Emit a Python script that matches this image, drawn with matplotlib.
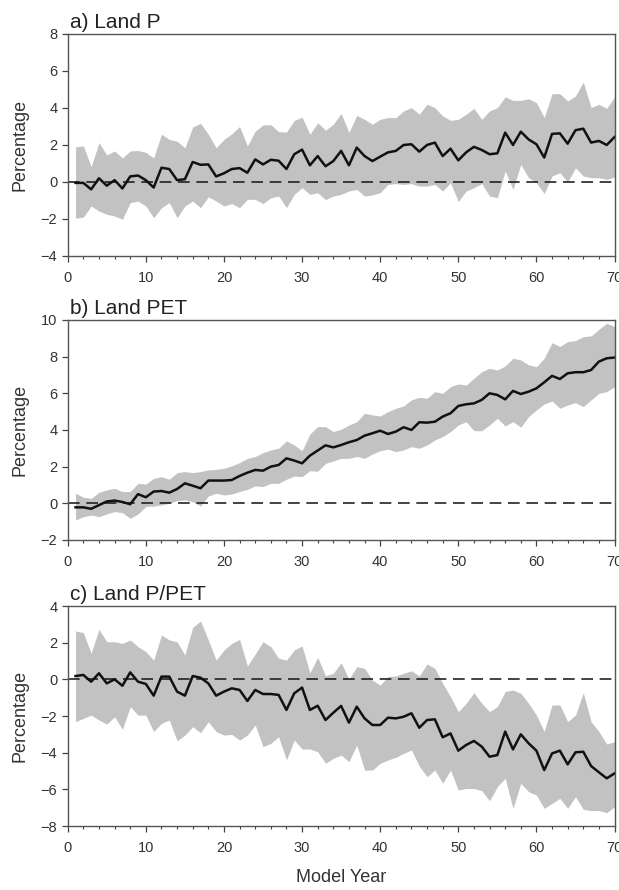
import numpy as np
from matplotlib import pyplot

years = list(range(1, 71))

land_p_mean = [-0.05, -0.05, -0.4, 0.2, -0.2, 0.1, -0.35, 0.3, 0.35, 0.1,
               -0.3, 0.77, 0.7, 0.1, 0.15, 1.08, 0.93, 0.95, 0.3, 0.47,
               0.7, 0.75, 0.5, 1.22, 0.95, 1.2, 1.15, 0.7, 1.5, 1.75,
               0.9, 1.4, 0.85, 1.13, 1.68, 0.9, 1.86, 1.4, 1.13, 1.37,
               1.6, 1.68, 2.0, 2.04, 1.64, 2.0, 2.13, 1.4, 1.8, 1.17,
               1.6, 1.9, 1.73, 1.5, 1.55, 2.67, 2.0, 2.72, 2.3, 2.04,
               1.32, 2.6, 2.63, 2.07, 2.8, 2.88, 2.13, 2.22, 2.0, 2.43]
land_p_upper = [1.9, 1.95, 0.83, 2.13, 1.46, 1.68, 1.3, 1.68, 1.7, 1.6,
                1.3, 2.58, 2.3, 2.2, 1.85, 2.97, 3.17, 2.58, 1.85, 2.3,
                2.6, 3.0, 1.95, 2.75, 3.08, 3.1, 2.72, 2.7, 3.33, 3.5,
                2.58, 3.2, 2.8, 3.12, 3.71, 2.67, 3.6, 3.39, 3.12, 3.39,
                3.48, 3.48, 3.84, 4.02, 3.66, 4.2, 4.02, 3.57, 3.33, 3.39,
                3.66, 3.98, 3.39, 3.84, 4.02, 4.6, 4.41, 4.41, 4.5, 4.29,
                3.48, 4.77, 4.77, 4.38, 4.65, 5.4, 4.02, 4.2, 3.98, 4.6]
land_p_lower = [-1.96, -1.9, -1.3, -1.57, -1.75, -1.84, -2.02, -1.12, -1.03, -1.3,
                -1.93, -1.39, -1.12, -1.93, -1.3, -1.03, -1.39, -0.8, -1.03, -1.3,
                -1.17, -1.39, -0.94, -0.94, -1.17, -0.85, -0.76, -1.39, -0.67, -0.31,
                -0.67, -0.58, -0.95, -0.76, -0.67, -0.49, -0.4, -0.76, -0.7, -0.58,
                -0.13, -0.09, -0.13, -0.09, -0.22, -0.22, -0.13, -0.49, -0.04, -1.06,
                -0.49, -0.31, -0.09, -0.76, -0.85, 0.6, -0.4, 0.95, 0.23, -0.04,
                -0.63, 0.32, 0.5, 0.0, 0.77, 0.32, 0.23, 0.23, 0.14, 0.27]

land_pet_mean = [-0.22, -0.22, -0.3, -0.1, 0.1, 0.15, 0.07, -0.05, 0.5, 0.33,
                 0.64, 0.67, 0.58, 0.78, 1.09, 0.96, 0.82, 1.24, 1.24, 1.24,
                 1.27, 1.49, 1.67, 1.82, 1.78, 2.0, 2.09, 2.45, 2.33, 2.18,
                 2.6, 2.88, 3.16, 3.05, 3.18, 3.33, 3.45, 3.69, 3.82, 3.96,
                 3.78, 3.91, 4.15, 4.0, 4.42, 4.4, 4.45, 4.73, 4.91, 5.31,
                 5.4, 5.45, 5.64, 6.0, 5.91, 5.67, 6.13, 5.96, 6.09, 6.27,
                 6.6, 6.95, 6.78, 7.09, 7.15, 7.15, 7.27, 7.73, 7.91, 7.95]
land_pet_upper = [0.55, 0.33, 0.27, 0.6, 0.73, 0.82, 0.64, 0.64, 1.09, 1.05,
                  1.36, 1.45, 1.31, 1.67, 1.73, 1.67, 1.73, 1.82, 1.85, 1.91,
                  2.04, 2.22, 2.45, 2.55, 2.76, 2.91, 3.0, 3.4, 3.18, 2.87,
                  3.78, 4.18, 4.18, 3.91, 4.04, 4.27, 4.45, 4.91, 4.82, 4.76,
                  5.0, 5.18, 5.31, 5.64, 5.78, 5.73, 6.09, 6.0, 6.36, 6.51,
                  6.45, 6.82, 7.18, 7.36, 7.27, 7.49, 7.91, 7.82, 7.55, 7.45,
                  7.91, 8.76, 8.55, 8.82, 8.87, 9.09, 9.13, 9.49, 9.82, 9.64]
land_pet_lower = [-0.91, -0.73, -0.64, -0.73, -0.58, -0.45, -0.51, -0.82, -0.58, -0.18,
                  -0.15, -0.09, 0.0, 0.15, 0.18, 0.09, -0.15, 0.4, 0.55, 0.45,
                  0.51, 0.64, 0.76, 0.95, 0.91, 1.09, 1.09, 1.31, 1.49, 1.45,
                  1.78, 1.75, 2.18, 2.31, 2.45, 2.45, 2.55, 2.45, 2.69, 2.87,
                  2.95, 2.82, 2.91, 3.09, 3.0, 3.18, 3.45, 3.64, 3.91, 4.27,
                  4.45, 3.96, 3.96, 4.27, 4.64, 4.22, 4.45, 4.15, 4.73, 5.09,
                  5.42, 5.58, 5.18, 5.36, 5.49, 5.27, 5.64, 6.0, 6.09, 6.36]

land_ratio_mean = [0.18, 0.24, -0.13, 0.33, -0.22, 0.0, -0.35, 0.38, -0.13, -0.25,
                   -0.89, 0.15, 0.15, -0.67, -0.89, 0.18, 0.09, -0.22, -0.89, -0.67,
                   -0.49, -0.58, -1.18, -0.58, -0.8, -0.8, -0.85, -1.67, -0.76, -0.45,
                   -1.67, -1.44, -2.22, -1.82, -1.45, -2.36, -1.49, -2.13, -2.49, -2.49,
                   -2.09, -2.13, -2.04, -1.85, -2.64, -2.22, -2.18, -3.16, -2.95, -3.89,
                   -3.58, -3.36, -3.67, -4.22, -4.13, -2.85, -3.82, -3.0, -3.49, -3.89,
                   -4.95, -4.04, -3.89, -4.64, -3.98, -3.95, -4.73, -5.07, -5.4, -5.13]
land_ratio_upper = [2.64, 2.55, 1.42, 2.73, 2.05, 2.05, 1.96, 2.15, 1.78, 1.51,
                    1.05, 2.42, 2.15, 2.05, 1.33, 2.84, 3.18, 2.15, 1.05, 1.6,
                    1.96, 2.18, 0.73, 1.38, 2.05, 1.78, 1.15, 1.05, 1.6, 1.82,
                    0.35, 1.2, 0.2, 0.33, 0.91, 0.0, 0.69, 0.6, -0.04, -0.31,
                    0.15, 0.18, 0.33, 0.47, 0.18, 0.84, 0.6, -0.22, -0.95, -1.76,
                    -1.31, -0.73, -1.31, -1.76, -1.49, -0.67, -0.58, -0.76, -1.31, -1.95,
                    -2.85, -1.4, -1.4, -2.31, -1.95, -0.73, -2.31, -2.85, -3.53, -3.4]
land_ratio_lower = [-2.31, -2.13, -1.95, -2.22, -2.44, -2.04, -2.73, -1.49, -1.95, -1.95,
                    -2.85, -2.4, -2.22, -3.35, -3.04, -2.58, -2.91, -2.31, -2.85, -3.04,
                    -3.0, -3.31, -3.04, -2.49, -3.67, -3.49, -3.13, -4.4, -3.31, -3.8,
                    -3.8, -3.95, -4.58, -4.31, -4.13, -4.49, -3.58, -4.95, -4.95, -4.58,
                    -4.4, -4.25, -4.04, -3.85, -4.73, -5.31, -4.95, -5.67, -4.95, -6.04,
                    -5.95, -5.95, -6.07, -6.62, -5.85, -5.4, -7.04, -5.67, -6.13, -6.31,
                    -7.04, -6.76, -6.49, -7.04, -6.4, -7.09, -7.16, -7.16, -7.27, -6.95]

titles = ["a) Land P", "b) Land PET", "c) Land P/PET"]
y_ranges = [(-4, 8), (-2, 10), (-8, 4)]


def draw_panel(ax, title, mean, lower, upper, ylim):
    ax.fill_between(years, lower, upper, color="#c2c2c2", linewidth=0)
    ax.axhline(0, color="#222222", linewidth=1.2, dashes=(7, 4))
    ax.plot(years, mean, color="#111111", linewidth=1.8)

    ax.set_xlim(0, 70)
    ax.set_ylim(*ylim)
    ax.set_xticks(np.arange(0, 71, 10))
    ax.set_xticks(np.arange(0, 71, 2), minor=True)
    ax.set_yticks(np.arange(ylim[0], ylim[1] + 1, 2))
    ax.tick_params(axis="both", which="major", direction="out", length=4,
                   width=0.9, color="#444444", labelsize=10.5, labelcolor="#333333")
    ax.tick_params(axis="x", which="major", pad=7)
    ax.tick_params(axis="x", which="minor", direction="out", length=2.5,
                   width=0.8, color="#444444")
    for spine in ax.spines.values():
        spine.set_color("#555555")
        spine.set_linewidth(1.0)

    ax.set_title(title, loc="left", fontsize=15, color="#222222", pad=4, x=0.005)
    ax.set_ylabel("Percentage", fontsize=13, color="#333333", labelpad=9)


def main():
    pyplot.rcParams["font.family"] = ["Liberation Sans", "DejaVu Sans"]
    fig = pyplot.figure(figsize=[6.19, 8.90], dpi=100)

    left, width = 0.1094, 0.8834
    boxes = [(0.7124, 0.2494), (0.3933, 0.2472), (0.0719, 0.2472)]
    data = [(land_p_mean, land_p_lower, land_p_upper),
            (land_pet_mean, land_pet_lower, land_pet_upper),
            (land_ratio_mean, land_ratio_lower, land_ratio_upper)]

    for (bottom, height), title, (mean, lower, upper), ylim in zip(boxes, titles, data, y_ranges):
        ax = fig.add_axes([left, bottom, width, height])
        draw_panel(ax, title, mean, lower, upper, ylim)

    ax.set_xlabel("Model Year", fontsize=13, color="#333333", labelpad=10)
    fig.savefig("out.png", dpi=100)


if __name__ == '__main__':
    main()
